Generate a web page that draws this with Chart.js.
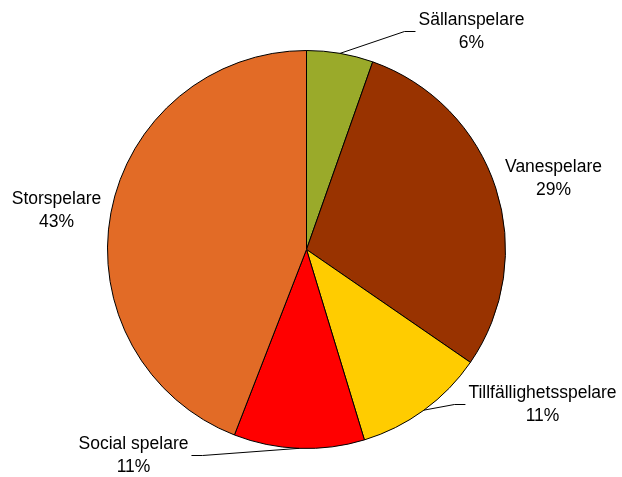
<!DOCTYPE html>
<html>
<head>
<meta charset="utf-8">
<script src="https://cdn.jsdelivr.net/npm/chart.js@4/dist/chart.umd.min.js"></script>
<style>
   html, body { margin: 0; padding: 0; background: #fff; }
   #wrap { width: 622px; height: 477px; }
</style>
</head>
<body>
<div id="wrap"><canvas id="myChart" width="622" height="477"></canvas></div>
<script>
// slice names, clockwise from the top
const categories = ['Sällanspelare', 'Vanespelare', 'Tillfällighetsspelare', 'Social spelare', 'Storspelare'];
const shares = [5.4, 29.2, 10.7, 10.6, 44.1];
// percentage text as printed on the labels
const pctLabels = ['6%', '29%', '11%', '11%', '43%'];
const colors = ['#9AAA2A', '#993300', '#FFCC00', '#FF0000', '#E26B26'];

// label block centre relative to pie centre, and which side the leader line comes from
const labelPos = [
   {dx: 165, dy: -218, leader: 'left'},
   {dx: 247, dy: -71, leader: null},
   {dx: 236, dy: 155, leader: 'left'},
   {dx: -173, dy: 206, leader: 'right'},
   {dx: -250, dy: -39, leader: null},
];

const labelPlugin = {
   id: 'pieLabels',
   afterDatasetsDraw(chart) {
      const ctx = chart.ctx;
      const arcs = chart.getDatasetMeta(0).data;
      ctx.save();
      ctx.font = '17.5px "Liberation Sans", Arial, sans-serif';
      ctx.fillStyle = '#000';
      ctx.textAlign = 'center';
      ctx.textBaseline = 'middle';
      const lineGap = 23;
      arcs.forEach((arc, i) => {
         const {x, y, startAngle, endAngle, outerRadius} = arc.getProps(['x', 'y', 'startAngle', 'endAngle', 'outerRadius'], true);
         const pos = labelPos[i];
         const cx = x + pos.dx, cy = y + pos.dy;
         ctx.fillText(categories[i], cx, cy - lineGap / 2);
         ctx.fillText(pctLabels[i], cx, cy + lineGap / 2);

         if (pos.leader) {
            const w = Math.max(ctx.measureText(categories[i]).width, ctx.measureText(pctLabels[i]).width);
            const mid = (startAngle + endAngle) / 2;
            const rx = x + Math.cos(mid) * outerRadius, ry = y + Math.sin(mid) * outerRadius;
            const sign = pos.leader === 'left' ? -1 : 1;
            const edge = cx + sign * (w / 2 + 3);
            ctx.beginPath();
            ctx.moveTo(rx, ry);
            ctx.lineTo(edge + sign * 11, cy);
            ctx.lineTo(edge, cy);
            ctx.strokeStyle = '#000';
            ctx.lineWidth = 1;
            ctx.stroke();
         }
      });
      ctx.restore();
   }
};

const ctx = document.getElementById('myChart').getContext('2d');
new Chart(ctx, {
   type: 'pie',
   data: {
      labels: categories,
      datasets: [{
         data: shares,
         backgroundColor: colors,
         borderColor: '#000',
         borderWidth: 1,
         hoverOffset: 0,
      }]
   },
   options: {
      responsive: false,
      maintainAspectRatio: false,
      animation: false,
      layout: {padding: {left: 107, right: 116, top: 50, bottom: 28}},
      plugins: {
         legend: {display: false},
         tooltip: {enabled: false},
      }
   },
   plugins: [labelPlugin]
});
</script>
</body>
</html>
